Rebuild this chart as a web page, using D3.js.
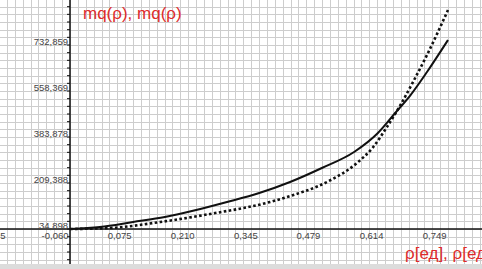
<!DOCTYPE html>
<html>
<head>
<meta charset="utf-8">
<script src="https://cdn.jsdelivr.net/npm/d3@7"></script>
<style>
  body { margin: 0; background: #fff; }
  svg { display: block; font-family: "Liberation Sans", Arial, sans-serif; }
</style>
</head>
<body>
<div id="chart"></div>
<script>
// values
const solidX = [-0.060, 0.004, 0.075, 0.143, 0.210, 0.276, 0.345, 0.411, 0.479, 0.548, 0.599, 0.636, 0.668, 0.704, 0.749];
const solidY = [34.9, 42.5, 61.5, 80.4, 107.0, 137.3, 171.5, 213.2, 266.3, 327.0, 399.0, 474.9, 541.0, 630.4, 751.8];
const dotX = [-0.060, 0.026, 0.133, 0.240, 0.368, 0.411, 0.490, 0.554, 0.589, 0.618, 0.646, 0.674, 0.704, 0.749];
const dotY = [34.9, 38.7, 61.4, 92.0, 137.3, 160.0, 213.1, 285.1, 345.9, 421.0, 501.5, 592.0, 694.9, 865.6];

const xTicks = [-0.195, -0.060, 0.075, 0.210, 0.345, 0.479, 0.614, 0.749];
const xLabels = ["-0,195", "-0,060", "0,075", "0,210", "0,345", "0,479", "0,614", "0,749"];
const yTicks = [34.898, 209.388, 383.878, 558.369, 732.859];
const yLabels = ["34,898", "209,388", "383,878", "558,369", "732,859"];

const width = 482, height = 269;

const svg = d3.select("#chart").append("svg")
    .attr("width", width)
    .attr("height", height);

const x = d3.scaleLinear().domain([-0.060, 0.749]).range([70, 448]);
const y = d3.scaleLinear().domain([34.898, 732.859]).range([229, 45]);

// minor grid: 8 per x step, 6 per y step
const xStep = (0.749 + 0.060) / 6 / 8;
const yStep = (732.859 - 34.898) / 4 / 6;
const xGrid = d3.range(-80, 80).map(i => -0.060 + i * xStep).filter(v => x(v) >= 0 && x(v) <= width);
const yGrid = d3.range(-40, 40).map(i => 34.898 + i * yStep).filter(v => y(v) >= 0 && y(v) <= height);

svg.append("g").selectAll("line")
    .data(xGrid)
    .enter().append("line")
    .attr("x1", d => Math.round(x(d)) + 0.5)
    .attr("x2", d => Math.round(x(d)) + 0.5)
    .attr("y1", 0).attr("y2", height)
    .attr("stroke", "#cdcdcd");

svg.append("g").selectAll("line")
    .data(yGrid)
    .enter().append("line")
    .attr("y1", d => Math.round(y(d)) + 0.5)
    .attr("y2", d => Math.round(y(d)) + 0.5)
    .attr("x1", 0).attr("x2", width)
    .attr("stroke", "#cdcdcd");

// axes
svg.append("line")
    .attr("x1", 0).attr("x2", width)
    .attr("y1", y(34.898)).attr("y2", y(34.898))
    .attr("stroke", "#111").attr("stroke-width", 1.5);
svg.append("line")
    .attr("x1", x(-0.060)).attr("x2", x(-0.060))
    .attr("y1", 0).attr("y2", 264)
    .attr("stroke", "#111").attr("stroke-width", 1.5);

// small ticks on y axis
svg.append("g").selectAll("line")
    .data(yGrid)
    .enter().append("line")
    .attr("x1", x(-0.060) - 3).attr("x2", x(-0.060))
    .attr("y1", d => y(d)).attr("y2", d => y(d))
    .attr("stroke", "#111");

const yAxis = svg.append("g")
    .attr("transform", `translate(${x(-0.060)},0)`)
    .call(d3.axisLeft(y).tickValues(yTicks).tickFormat((d, i) => yLabels[i]).tickSize(0));
yAxis.select(".domain").remove();
yAxis.selectAll("text")
    .attr("x", -2).attr("dy", "-0.05em")
    .attr("font-size", 9.5).attr("fill", "#444")
    .attr("font-family", "Liberation Sans, Arial, sans-serif");

const xAxis = svg.append("g")
    .attr("transform", `translate(0,${y(34.898)})`)
    .call(d3.axisBottom(x).tickValues(xTicks).tickFormat((d, i) => xLabels[i]).tickSize(0));
xAxis.select(".domain").remove();
xAxis.selectAll("text")
    .attr("text-anchor", "end")
    .attr("x", -2).attr("y", 3)
    .attr("font-size", 9.5).attr("fill", "#444")
    .attr("font-family", "Liberation Sans, Arial, sans-serif");

// curves
const solid = solidX.map((d, i) => [d, solidY[i]]);
const dotted = dotX.map((d, i) => [d, dotY[i]]);
const line = d3.line()
    .x(d => x(d[0]))
    .y(d => y(d[1]))
    .curve(d3.curveMonotoneX);

svg.append("path")
    .attr("d", line(solid))
    .attr("fill", "none")
    .attr("stroke", "#111")
    .attr("stroke-width", 2);

svg.append("path")
    .attr("d", line(dotted))
    .attr("fill", "none")
    .attr("stroke", "#111")
    .attr("stroke-width", 2.6)
    .attr("stroke-dasharray", "2.6,2.4");

// titles
svg.append("text")
    .attr("x", 83).attr("y", 19)
    .attr("font-size", 17)
    .attr("fill", "#dd2b2b")
    .text("mq(ρ), mq(ρ)");

svg.append("text")
    .attr("x", 405).attr("y", 259)
    .attr("font-size", 17)
    .attr("fill", "#dd2b2b")
    .text("ρ[ед], ρ[ед]");

// grey strip at the bottom
svg.append("rect")
    .attr("x", 0).attr("y", 264)
    .attr("width", width).attr("height", 5)
    .attr("fill", "#dcdcdc");
</script>
</body>
</html>
